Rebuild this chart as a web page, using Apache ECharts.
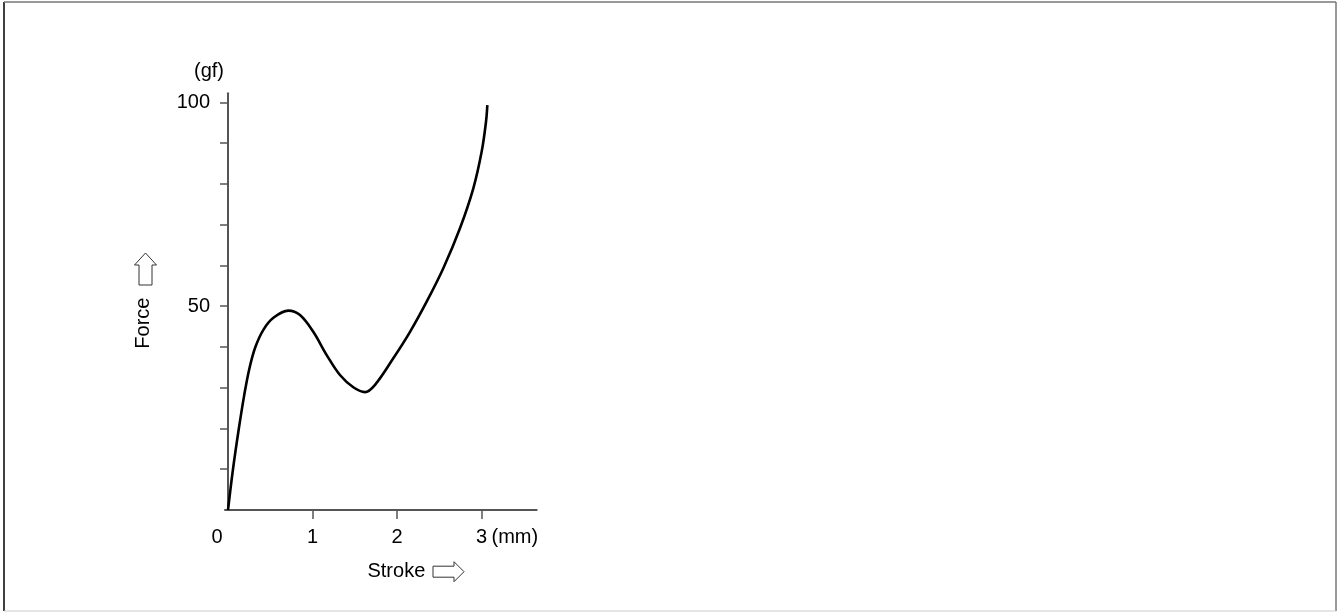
<!DOCTYPE html>
<html>
<head>
<meta charset="utf-8">
<script src="https://cdn.jsdelivr.net/npm/echarts@6/dist/echarts.min.js"></script>
<style>
html,body{margin:0;padding:0;background:#fff;}
#chart{width:1340px;height:612px;}
</style>
</head>
<body>
<div id="chart"></div>
<script>
// Data (Stroke in mm, Force in gf)
var stroke = [0, 0.059, 0.127, 0.193, 0.252, 0.323, 0.422, 0.541, 0.714, 0.852, 1.009, 1.168, 1.325, 1.483, 1.621, 1.740, 1.956, 2.154, 2.351, 2.548, 2.745, 2.903, 3.002, 3.053, 3.069];
var force  = [0, 10.0, 19.8, 28.3, 34.6, 39.9, 44.3, 47.2, 48.9, 47.8, 43.7, 38.0, 33.1, 30.1, 28.9, 30.7, 37.2, 43.7, 51.1, 59.3, 69.1, 78.9, 87.9, 95.2, 99.3];
var xTickValues = [1, 2, 3];
var xLabelValues = [0, 1, 2, 3];
var yTickValues = [10, 20, 30, 40, 50, 60, 70, 80, 90, 100];
var yLabelValues = [50, 100];
var xName = 'Stroke';
var yName = 'Force';
var xUnit = '(mm)';
var yUnit = '(gf)';

var FONT = "'Liberation Sans', Arial, Helvetica, sans-serif";
var chart = echarts.init(document.getElementById('chart'), null, {renderer: 'canvas'});
var pts = stroke.map(function (s, i) { return [s, force[i]]; });

var option = {
  animation: false,
  backgroundColor: '#fff',
  grid: {left: 225, top: 93.3, width: 311.7, height: 416.7, containLabel: false},
  xAxis: {
    type: 'value',
    min: -0.0355,
    max: 3.653,
    splitLine: {show: false},
    axisLine: {show: true, lineStyle: {color: '#555', width: 2}},
    axisTick: {show: true, length: 9, customValues: xTickValues, lineStyle: {color: '#555', width: 1.5}},
    axisLabel: {
      show: true, margin: 17, color: '#000', fontSize: 20, fontFamily: FONT,
      customValues: xLabelValues,
      formatter: function (v) { return v === 0 ? '{z|0}' : String(v); },
      rich: {z: {fontSize: 20, fontFamily: FONT, color: '#000', padding: [0, 22, 0, 0]}}
    },
    name: xName,
    nameLocation: 'middle',
    nameGap: 51,
    nameTextStyle: {color: '#000', fontSize: 20, fontFamily: FONT, padding: [0, 0, 0, 31]}
  },
  yAxis: {
    type: 'value',
    min: 0,
    max: 102.2,
    splitLine: {show: false},
    axisLine: {show: true, lineStyle: {color: '#555', width: 2}},
    axisTick: {show: true, length: 8, customValues: yTickValues, lineStyle: {color: '#555', width: 1.5}},
    axisLabel: {show: true, margin: 15, color: '#000', fontSize: 20, fontFamily: FONT, customValues: yLabelValues},
    name: yName,
    nameLocation: 'middle',
    nameRotate: 90,
    nameGap: 72,
    nameTextStyle: {color: '#000', fontSize: 20, fontFamily: FONT, padding: [0, 43, 0, 0]}
  },
  series: [{
    type: 'line',
    data: pts,
    showSymbol: false,
    smooth: 0.35,
    lineStyle: {color: '#000', width: 2.6},
    silent: true
  }],
  graphic: [
    {type: 'text', silent: true, style: {x: 224, y: 71, text: yUnit, align: 'right', verticalAlign: 'middle', fill: '#000', font: '20px ' + FONT}},
    {type: 'text', silent: true, style: {x: 491.5, y: 537, text: xUnit, align: 'left', verticalAlign: 'middle', fill: '#000', font: '20px ' + FONT}},
    // hollow up arrow beside "Force"
    {type: 'polygon', silent: true, shape: {points: [[145.5, 253], [156.5, 265], [152, 265], [152, 285], [139, 285], [139, 265], [134.5, 265]]}, style: {fill: '#fff', stroke: '#333', lineWidth: 1}},
    // hollow right arrow beside "Stroke"
    {type: 'polygon', silent: true, shape: {points: [[433, 566.2], [454, 566.2], [454, 561.7], [464, 571.7], [454, 581.7], [454, 577.2], [433, 577.2]]}, style: {fill: '#fff', stroke: '#333', lineWidth: 1}},
    // frame
    {type: 'line', silent: true, shape: {x1: 4, y1: 2, x2: 4, y2: 611}, style: {stroke: '#000', lineWidth: 1.5}},
    {type: 'line', silent: true, shape: {x1: 4, y1: 2, x2: 1336, y2: 2}, style: {stroke: '#777', lineWidth: 1.5}},
    {type: 'line', silent: true, shape: {x1: 1336, y1: 2, x2: 1336, y2: 611}, style: {stroke: '#777', lineWidth: 1.5}},
    {type: 'line', silent: true, shape: {x1: 4, y1: 611, x2: 1336, y2: 611}, style: {stroke: '#ccc', lineWidth: 1}}
  ]
};
chart.setOption(option);
</script>
</body>
</html>
